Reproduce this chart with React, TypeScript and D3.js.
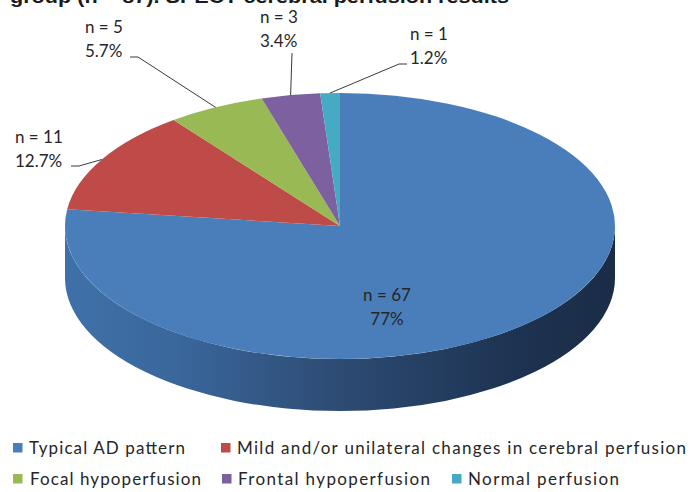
import React from "react";
import * as d3 from "d3";

const titleText = "group (n = 87). SPECT cerebral perfusion results";
const categories = [
  "Typical AD pattern",
  "Mild and/or unilateral changes in cerebral perfusion",
  "Focal hypoperfusion",
  "Frontal hypoperfusion",
  "Normal perfusion",
];
const counts = [67, 11, 5, 3, 1];
const percentLabels = ["77%", "12.7%", "5.7%", "3.4%", "1.2%"];
const colors = ["#4A7EBB", "#BE4B48", "#98B954", "#7D60A0", "#46AAC5"];

// layout (pixel positions) for the labels
const labelLayout = [
  { x: 387, y: 301, anchor: "middle", path: null as null | number[][] },
  { x: 15, y: 143, anchor: "start", path: [[71, 166], [79, 166]] },
  { x: 85, y: 33, anchor: "start", path: [[130, 57], [138, 57]] },
  { x: 260, y: 23, anchor: "start", path: [[292, 53]] },
  { x: 410, y: 40, anchor: "start", path: [[407, 64], [399, 64]] },
];

const legendLayout = [
  { x: 13, tx: 29, y: 454, w: 156 },
  { x: 221, tx: 237, y: 454, w: 449 },
  { x: 13, tx: 30, y: 485, w: 171 },
  { x: 222, tx: 238, y: 485, w: 192 },
  { x: 452, tx: 468, y: 485, w: 151 },
];

export default function App() {
  const W = 694;
  const H = 492;
  const cx = 340;
  const cy = 226;
  const rx = 275;
  const ry = 133;
  const depth = 52;
  const sy = ry / rx;

  const pie = d3
    .pie<number>()
    .sort(null)
    .startAngle(0)
    .endAngle(2 * Math.PI);
  const arcs = pie(counts);
  const arcGen = d3.arc<d3.PieArcDatum<number>>().innerRadius(0).outerRadius(rx);

  const pt = (a: number) => [cx + rx * Math.sin(a), cy - ry * Math.cos(a)];

  const sidePaths = arcs
    .map((d, i) => {
      const a0 = Math.max(d.startAngle, Math.PI / 2);
      const a1 = Math.min(d.endAngle, (3 * Math.PI) / 2);
      if (a1 <= a0) return null;
      const p0 = pt(a0);
      const p1 = pt(a1);
      const large = a1 - a0 > Math.PI ? 1 : 0;
      const p = `M${p0[0]},${p0[1]} A${rx},${ry} 0 ${large} 1 ${p1[0]},${p1[1]} L${p1[0]},${p1[1] + depth} A${rx},${ry} 0 ${large} 0 ${p0[0]},${p0[1] + depth} Z`;
      return { p, i };
    })
    .filter(Boolean) as { p: string; i: number }[];

  const textColor = "#262626";
  const font = "Lato, 'Open Sans', sans-serif";

  return (
    <svg
      width={W}
      height={H}
      style={{ position: "absolute", left: 0, top: 0, background: "#fff" }}
      fontFamily={font}
    >
      <defs>
        <linearGradient id="sideBlue" x1={cx - rx} x2={cx + rx} y1={0} y2={0} gradientUnits="userSpaceOnUse">
          <stop offset="0" stopColor="#3F71A8" />
          <stop offset="0.2" stopColor="#3A679C" />
          <stop offset="0.5" stopColor="#2D4B73" />
          <stop offset="0.8" stopColor="#1E3453" />
          <stop offset="1" stopColor="#1A2C46" />
        </linearGradient>
      </defs>

      <text
        x={10}
        y={3}
        fontFamily="'Liberation Sans', Arial, sans-serif"
        fontWeight="bold"
        fontSize={18}
        fill="#1a1a1a"
        textLength={499}
        lengthAdjust="spacingAndGlyphs"
      >
        {titleText}
      </text>

      {sidePaths.map((s) => (
        <path
          key={"side" + s.i}
          d={s.p}
          fill={s.i === 0 ? "url(#sideBlue)" : d3.color(colors[s.i])!.darker(1.2).toString()}
        />
      ))}

      <g transform={`translate(${cx},${cy}) scale(1,${sy})`}>
        {arcs.map((d, i) => (
          <path key={"top" + i} d={arcGen(d) || ""} fill={colors[i]} />
        ))}
      </g>

      {arcs.map((d, i) => {
        const L = labelLayout[i];
        const mid = (d.startAngle + d.endAngle) / 2;
        const anchorPt = pt(mid);
        const pts = L.path ? [...L.path, anchorPt] : null;
        return (
          <g key={"lab" + i}>
            {pts && (
              <polyline
                points={pts.map((p) => p.join(",")).join(" ")}
                fill="none"
                stroke="#3a3a3a"
                strokeWidth={1}
              />
            )}
            <text x={L.x} y={L.y} fontSize={17} fill={textColor} textAnchor={L.anchor}>
              {`n = ${counts[i]}`}
            </text>
            <text x={L.x} y={L.y + 24} fontSize={17} fill={textColor} textAnchor={L.anchor}>
              {percentLabels[i]}
            </text>
          </g>
        );
      })}

      {categories.map((c, i) => {
        const L = legendLayout[i];
        return (
          <g key={"leg" + i}>
            <rect x={L.x} y={L.y - 11} width={9.5} height={9.5} fill={colors[i]} />
            <text
              x={L.tx}
              y={L.y}
              fontSize={17}
              fill={textColor}
              textLength={L.w}
              lengthAdjust="spacing"
            >
              {c}
            </text>
          </g>
        );
      })}
    </svg>
  );
}
